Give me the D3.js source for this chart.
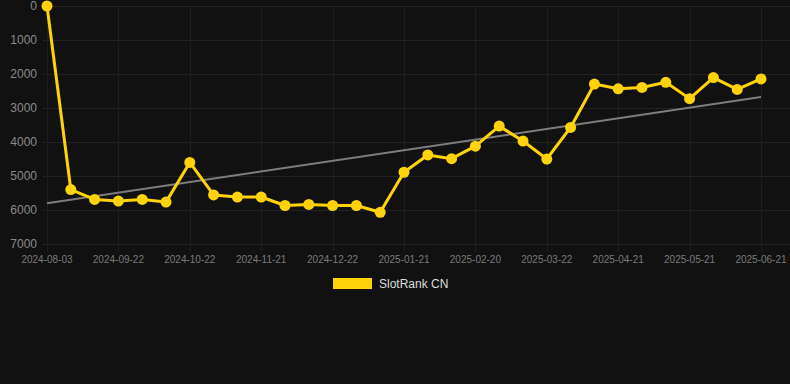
<!DOCTYPE html>
<html>
<head>
<meta charset="utf-8">
<script src="https://cdn.jsdelivr.net/npm/d3@7"></script>
<style>
  html, body { margin: 0; padding: 0; background: #111111; }
  svg { display: block; font-family: "Liberation Sans", Arial, sans-serif; }
</style>
</head>
<body>
<div id="svg_container"></div>
<script>
// categories (one point every ~10 days)
const dates = [
    "2024-08-03", "2024-09-02", "2024-09-12", "2024-09-22", "2024-10-02", "2024-10-12",
    "2024-10-22", "2024-11-01", "2024-11-11", "2024-11-21", "2024-12-01", "2024-12-11",
    "2024-12-22", "2025-01-01", "2025-01-11", "2025-01-21", "2025-01-31", "2025-02-10",
    "2025-02-20", "2025-03-02", "2025-03-12", "2025-03-22", "2025-04-01", "2025-04-11",
    "2025-04-21", "2025-05-01", "2025-05-11", "2025-05-21", "2025-06-01", "2025-06-11",
    "2025-06-21"
];
const ranks = [
    0, 5410, 5700, 5750, 5700, 5780, 4610, 5570, 5630, 5630, 5880, 5850, 5880, 5880, 6080, 4900,
    4390, 4500, 4130, 3540, 3980, 4510, 3580, 2300, 2440, 2400, 2250, 2730, 2110, 2460, 2150
];
const yTicks = [0, 1000, 2000, 3000, 4000, 5000, 6000, 7000];
const seriesName = "SlotRank CN";

const totalWidth = 790, totalHeight = 384;
const margin = { top: 6, right: 0, bottom: 141, left: 43 };
const width = totalWidth - margin.left - margin.right,
    height = totalHeight - margin.top - margin.bottom;

const svg = d3.select("#svg_container")
    .append("svg")
    .attr("width", totalWidth)
    .attr("height", totalHeight);

svg.append("rect")
    .attr("width", totalWidth)
    .attr("height", totalHeight)
    .attr("fill", "#111111");

const g = svg.append("g")
    .attr("transform", `translate(${margin.left}, ${margin.top})`);

const x = d3.scalePoint()
    .domain(dates)
    .range([4, 718]);

const y = d3.scaleLinear()
    .domain([0, 7000])
    .range([0, 237.5]);

// horizontal grid
g.append("g")
    .selectAll("line")
    .data(yTicks)
    .enter()
    .append("line")
    .attr("x1", 0)
    .attr("x2", width)
    .attr("y1", d => Math.round(y(d)) + 0.5)
    .attr("y2", d => Math.round(y(d)) + 0.5)
    .attr("stroke", "#222222")
    .attr("stroke-width", 1);

// vertical grid, only at labelled dates
const labelDates = dates.filter((d, i) => i % 3 === 0);
g.append("g")
    .selectAll("line")
    .data(labelDates)
    .enter()
    .append("line")
    .attr("x1", d => Math.round(x(d)) + 0.5)
    .attr("x2", d => Math.round(x(d)) + 0.5)
    .attr("y1", 0)
    .attr("y2", y(7000) + 8)
    .attr("stroke", "#1e1e1e")
    .attr("stroke-width", 1);

// y labels
g.append("g")
    .selectAll("text")
    .data(yTicks)
    .enter()
    .append("text")
    .attr("x", -6)
    .attr("y", d => y(d))
    .attr("dy", "0.35em")
    .attr("text-anchor", "end")
    .attr("font-size", 12)
    .attr("fill", "#8a8a8a")
    .text(d => d);

// x labels
g.append("g")
    .selectAll("text")
    .data(labelDates)
    .enter()
    .append("text")
    .attr("x", d => x(d))
    .attr("y", y(7000) + 16)
    .attr("dy", "0.35em")
    .attr("text-anchor", "middle")
    .attr("font-size", 10)
    .attr("fill", "#7a7a7a")
    .text(d => d);

// linear trend (least squares)
const n = ranks.length;
const mx = d3.mean(ranks, (d, i) => i), my = d3.mean(ranks);
let sxy = 0, sxx = 0;
ranks.forEach((v, i) => { sxy += (i - mx) * (v - my); sxx += (i - mx) * (i - mx); });
const slope = sxy / sxx, icpt = my - slope * mx;
g.append("line")
    .attr("x1", x(dates[0]))
    .attr("y1", y(icpt))
    .attr("x2", x(dates[n - 1]))
    .attr("y2", y(icpt + slope * (n - 1)))
    .attr("stroke", "#7d7d7d")
    .attr("stroke-width", 2);

// series line
const line = d3.line()
    .x((d, i) => x(dates[i]))
    .y(d => y(d));

g.append("path")
    .datum(ranks)
    .attr("fill", "none")
    .attr("stroke", "#ffd20a")
    .attr("stroke-width", 3)
    .attr("stroke-linejoin", "round")
    .attr("d", line);

g.append("g")
    .selectAll("circle")
    .data(ranks)
    .enter()
    .append("circle")
    .attr("cx", (d, i) => x(dates[i]))
    .attr("cy", d => y(d))
    .attr("r", 5.5)
    .attr("fill", "#ffd20a");

// legend
const legend = svg.append("g")
    .attr("transform", "translate(333, 278)");
legend.append("rect")
    .attr("width", 39)
    .attr("height", 11)
    .attr("fill", "#ffd20a");
legend.append("text")
    .attr("x", 46)
    .attr("y", 6)
    .attr("dy", "0.35em")
    .attr("font-size", 12)
    .attr("fill", "#dddddd")
    .text(seriesName);
</script>
</body>
</html>
